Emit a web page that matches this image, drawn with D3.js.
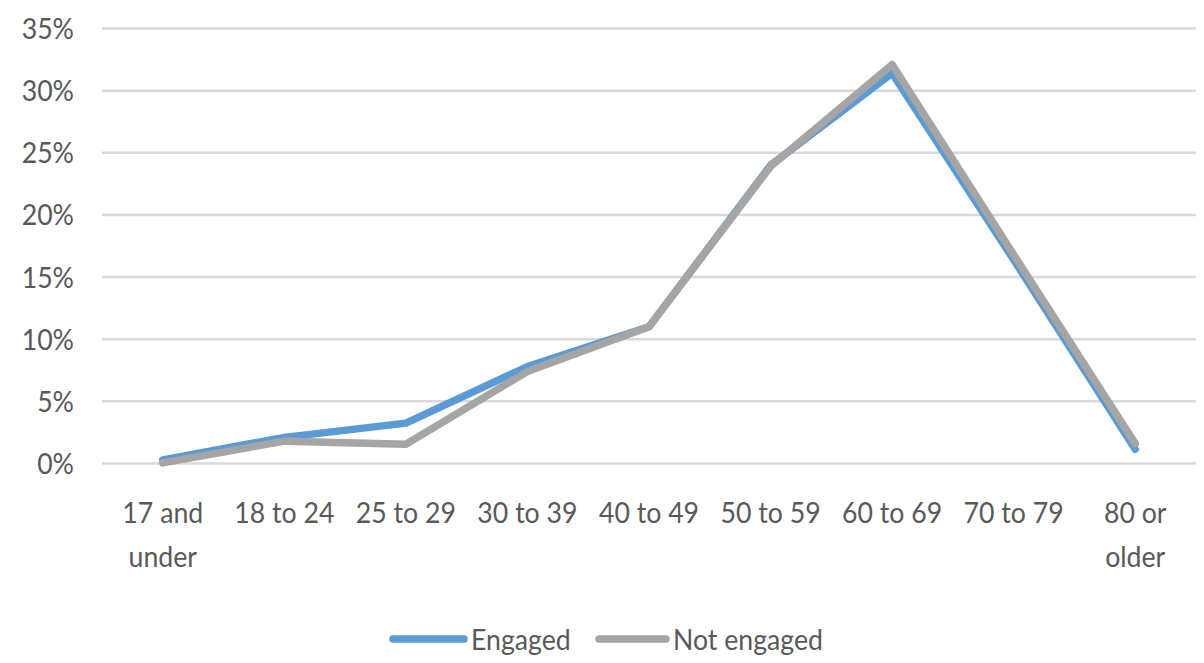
<!DOCTYPE html>
<html><head><meta charset="utf-8">
<script src="https://cdn.jsdelivr.net/npm/d3@7"></script>
<style>
html,body{margin:0;padding:0;background:#fff;}
svg text{font-family:Lato,"Open Sans",sans-serif;fill:#595959;}
</style></head>
<body><svg id="c" width="1204" height="663"></svg>
<script>
const categories = [["17 and","under"],["18 to 24"],["25 to 29"],["30 to 39"],["40 to 49"],["50 to 59"],["60 to 69"],["70 to 79"],["80 or","older"]];
const engaged    = [0.28, 2.1, 3.25, 7.8, 11.0, 24.0, 31.4, 16.4, 1.15];
const notEngaged = [0.05, 1.8, 1.55, 7.4, 11.0, 23.9, 32.1, 16.8, 1.6];
const yTicks = [0,5,10,15,20,25,30,35];
const seriesNames = ["Engaged","Not engaged"];
const colors = ["#5b9bd5","#a5a5a5"];

const FS = 29, SX = 0.92;
const svg = d3.select("#c");
const x = d3.scaleBand().domain(d3.range(categories.length)).range([102,1196]);
const y = d3.scaleLinear().domain([0,35]).range([463.5,28.5]);

function label(parent, tx, ty, lines, anchor, lh){
  const g = parent.append("g").attr("transform",`translate(${tx},${ty}) scale(${SX},1)`);
  const t = g.append("text").attr("text-anchor",anchor).attr("font-size",FS);
  lines.forEach((s,j)=>t.append("tspan").attr("x",0).attr("y",j*(lh||0)).text(s));
  return t;
}

// gridlines
svg.append("g").selectAll("line").data(yTicks).join("line")
  .attr("x1",102).attr("x2",1196)
  .attr("y1",d=>y(d)).attr("y2",d=>y(d))
  .attr("stroke","#d9d9d9").attr("stroke-width",2.5);

// y labels (positions from the scale)
const yl = svg.append("g");
yTicks.forEach(d=>label(yl, 74, y(d)+10.5, [d+"%"], "end"));

// x labels
const xl = svg.append("g");
categories.forEach((c,i)=>label(xl, x(i)+x.bandwidth()/2, 523, c, "middle", 44));

// lines
const line = d3.line().x((d,i)=>x(i)+x.bandwidth()/2).y(d=>y(d));
[engaged,notEngaged].forEach((s,k)=>{
  svg.append("path").attr("d",line(s)).attr("fill","none")
    .attr("stroke",colors[k]).attr("stroke-width",7.5)
    .attr("stroke-linejoin","round").attr("stroke-linecap","round");
});

// legend
const leg = [{x1:393,x2:464,tx:471},{x1:599,x2:666,tx:673}];
leg.forEach((l,k)=>{
  svg.append("line").attr("x1",l.x1).attr("x2",l.x2).attr("y1",639).attr("y2",639)
    .attr("stroke",colors[k]).attr("stroke-width",7.5).attr("stroke-linecap","round");
  label(svg, l.tx, 650, [seriesNames[k]], "start");
});
</script></body></html>
